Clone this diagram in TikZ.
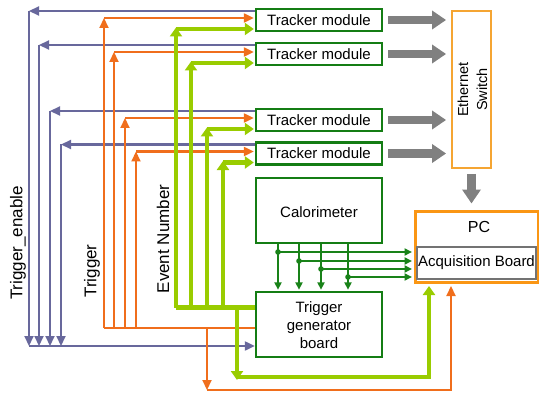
\documentclass[tikz,border=0pt]{standalone}
\usepackage{fontspec}
\setmainfont{Liberation Sans}
\usetikzlibrary{arrows.meta,calc}
\definecolor{teblue}{RGB}{104,104,156}
\definecolor{trorange}{RGB}{240,110,28}
\definecolor{evgreen}{RGB}{153,204,0}
\definecolor{boxgreen}{RGB}{20,125,20}
\definecolor{dkgreen}{RGB}{25,130,25}
\definecolor{swor}{RGB}{245,165,50}
\definecolor{pcor}{RGB}{250,150,20}
\definecolor{garrow}{RGB}{128,128,128}
\begin{document}
\begin{tikzpicture}[x=1pt,y=-1pt,
  font=\fontsize{15}{18}\selectfont,
  gbox/.style={draw=boxgreen, line width=2.4pt, minimum width=126pt, inner sep=0pt, align=center},
  tmbox/.style={gbox, minimum height=22pt},
  te/.style={draw=teblue, line width=2.2pt},
  tetip/.style={te, -{Triangle[length=10pt,width=9pt]}},
  tr/.style={draw=trorange, line width=2.2pt},
  trtip/.style={tr, -{Triangle[length=10pt,width=9pt]}},
  ev/.style={draw=evgreen, line width=4.8pt},
  evtip/.style={ev, -{Triangle[length=9pt,width=12pt]}},
  dg/.style={draw=dkgreen, line width=2pt, -{Triangle[length=7.5pt,width=7pt]}},
  gar/.style={draw=garrow, line width=8.5pt, -{Triangle[length=14pt,width=18pt]}},
  lbl/.style={rotate=90, font=\fontsize{17}{20}\selectfont}
]
\useasboundingbox (0,0) rectangle (539,396);

% boxes
\node[tmbox] (tm1) at (319,20) {Tracker module};
\node[tmbox] (tm2) at (319,54) {Tracker module};
\node[tmbox] (tm3) at (319,120) {Tracker module};
\node[tmbox] (tm4) at (319,153.5) {Tracker module};
\node[gbox, minimum height=65pt] (cal) at (319,210.5) {};
\node (caltext) at (319,212) {Calorimeter};
\node[gbox, minimum height=65pt] (tgb) at (319,324.5) {};
\node[align=center, font=\fontsize{15}{18}\selectfont] (tgbtext) at (319,325) {Trigger\\generator\\board};
\node[draw=swor, line width=1.8pt, minimum width=39pt, minimum height=157pt, inner sep=0pt] (sw) at (471.5,89.5) {};
\node[rotate=90, align=center, font=\fontsize{14.5}{19}\selectfont] (swtext) at (472.5,89.5) {Ethernet\\Switch};
\node[draw=pcor, line width=3pt, minimum width=123pt, minimum height=71pt, inner sep=0pt] (pc) at (476.5,246.5) {};
\node[font=\fontsize{16}{18}\selectfont] (pctext) at (479,227) {PC};
\node[draw=black!55, line width=1.2pt, minimum width=119pt, minimum height=32pt, inner sep=0pt] (acq) at (476.5,263) {Acquisition Board};

% labels
\node[lbl] (lte) at (18,243) {Trigger\_enable};
\node[lbl] (ltr) at (92,271) {Trigger};
\node[lbl] (lev) at (163,239) {Event Number};

% lanes
\coordinate (b1) at (29,0); \coordinate (b2) at (39,0);
\coordinate (b3) at (50,0); \coordinate (b4) at (61,0);
\coordinate (o1) at (104,0); \coordinate (o2) at (114,0);
\coordinate (o3) at (125,0); \coordinate (o4) at (136,0);
\coordinate (g1) at (176,0); \coordinate (g2) at (191,0);
\coordinate (g3) at (207,0); \coordinate (g4) at (223,0);
\coordinate (bb) at (0,346);
\coordinate (ob) at (0,328);
\coordinate (gb) at (0,307.5);
\coordinate (opc) at (451,0);
\coordinate (gpc) at (429,0);

% Trigger_enable (blue)
\foreach \t/\b in {tm1/b1,tm2/b2,tm3/b3,tm4/b4}{
  \coordinate (e) at ($(\t.west)+(0,-9)$);
  \draw[tetip] (e) -- (e -| \b);
  \draw[tetip] (e -| \b) -- (\b |- bb);
}
\draw[tetip] (b1 |- bb) -- (bb -| tgb.west);

% Trigger (orange)
\draw[tr] (ob -| tgb.west) -- (o1 |- ob);
\foreach \t/\o in {tm1/o1,tm2/o2,tm3/o3,tm4/o4}{
  \coordinate (r) at ($(\t.west)+(0,-2)$);
  \draw[trtip] (\o |- ob) -- (\o |- r);
  \draw[trtip, shorten >=1pt] (\o |- r) -- (r);
}
\coordinate (od) at (207,390);
\draw[trtip] (od |- ob) -- (od);
\draw[trtip, shorten >=2.5pt] (od) -| (opc |- pc.south);

% Event Number (green)
\draw[ev] (gb -| tgb.west) -- (g1 |- gb);
\foreach \t/\g in {tm1/g1,tm2/g2,tm3/g3,tm4/g4}{
  \coordinate (v) at ($(\t.west)+(0,9)$);
  \draw[evtip] (\g |- gb) -- ($(\g |- v)+(0,-1.5)$);
  \draw[evtip, shorten >=1pt] (\g |- v) -- (v);
}
\coordinate (gd) at (237,377);
\draw[evtip] (gd |- gb) -- ($(gd)+(0,3)$);
\draw[evtip, shorten >=2.5pt] (gd) -| (gpc |- pc.south);

% Calorimeter outputs (dark green)
\coordinate (c1) at (278,252); \coordinate (c2) at (299,261);
\coordinate (c3) at (321,269); \coordinate (c4) at (348,277);
\foreach \c in {c1,c2,c3,c4}{
  \draw[dg] (\c |- cal.south) -- ($(\c |- tgb.north)+(0,-1)$);
  \draw[dg, shorten >=1.5pt] (\c) -- (\c -| pc.west);
  \fill[dkgreen] (\c) circle (2.8pt);
}

% gray arrows to switch and PC
\foreach \t in {tm1,tm2,tm3,tm4}{
  \draw[gar] ($(\t.east)+(5,0)$) -- ($(\t.east -| sw.west)+(-5,0)$);
}
\draw[gar] ($(sw.south)+(0,5)$) -- ($(sw.south |- pc.north)+(0,-6)$);
\end{tikzpicture}
\end{document}
